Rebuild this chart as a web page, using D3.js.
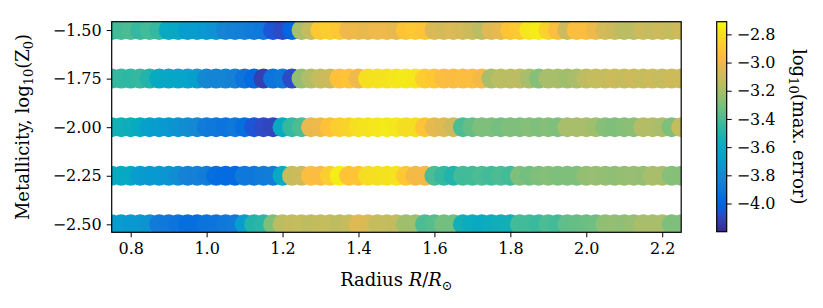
<!DOCTYPE html>
<html>
<head>
<meta charset="utf-8">
<script src="https://cdn.jsdelivr.net/npm/d3@7"></script>
<style>
  html, body { margin: 0; padding: 0; background: #fff; }
  svg { display: block; }
  text { font-family: "DejaVu Serif", serif; fill: #000; }
</style>
</head>
<body>
<svg id="chart" width="823" height="308"></svg>
<script>
// ---------------- data ----------------
const radii = [0.750,0.775,0.800,0.825,0.850,0.875,0.900,0.925,0.950,0.975,
               1.000,1.025,1.050,1.075,1.100,1.125,1.150,1.175,1.200,1.225,
               1.250,1.275,1.300,1.325,1.350,1.375,1.400,1.425,1.450,1.475,
               1.500,1.525,1.550,1.575,1.600,1.625,1.650,1.675,1.700,1.725,
               1.750,1.775,1.800,1.825,1.850,1.875,1.900,1.925,1.950,1.975,
               2.000,2.025,2.050,2.075,2.100,2.125,2.150,2.175,2.200,2.225,2.250];

const metallicities = [-1.50, -1.75, -2.00, -2.25, -2.50];

const errZm150 = [-3.45,-3.42,-3.40,-3.45,-3.42,-3.45,-3.60,-3.62,-3.70,-3.70,
                  -3.72,-3.75,-3.82,-3.85,-3.86,-3.88,-3.90,-4.05,-4.08,-4.00,
                  -3.20,-3.12,-2.90,-2.88,-2.90,-3.00,-3.00,-3.02,-3.00,-3.00,
                  -3.02,-2.92,-2.90,-2.92,-3.06,-3.08,-3.06,-3.08,-3.10,-3.15,
                  -3.05,-3.02,-2.92,-2.90,-2.77,-2.75,-2.85,-2.95,-3.10,-2.95,
                  -2.95,-3.00,-3.08,-3.10,-3.15,-3.15,-3.10,-3.12,-3.10,-3.12,-3.10];

const errZm175 = [-3.45,-3.45,-3.47,-3.45,-3.50,-3.60,-3.62,-3.63,-3.65,-3.68,
                  -3.80,-3.82,-3.83,-3.85,-3.92,-3.98,-4.12,-3.92,-3.90,-4.08,
                  -3.25,-3.18,-3.12,-3.10,-2.93,-2.92,-3.00,-2.80,-2.79,-2.78,
                  -2.77,-2.76,-2.77,-2.88,-2.90,-2.95,-2.96,-2.95,-2.95,-2.98,
                  -3.20,-3.15,-3.15,-3.14,-3.20,-3.28,-3.20,-3.20,-3.22,-3.20,
                  -3.14,-3.12,-3.12,-3.10,-3.12,-3.10,-3.12,-3.10,-3.12,-3.10,-3.10];

const errZm200 = [-3.55,-3.55,-3.57,-3.60,-3.68,-3.70,-3.72,-3.75,-3.78,-3.80,
                  -3.88,-3.90,-3.92,-3.90,-3.95,-4.05,-4.08,-4.10,-3.60,-3.45,
                  -3.40,-3.02,-3.00,-2.93,-2.88,-2.85,-2.80,-2.78,-2.77,-2.76,
                  -2.77,-2.81,-2.81,-2.92,-3.02,-3.05,-3.10,-3.40,-3.35,-3.30,
                  -3.30,-3.32,-3.30,-3.30,-3.28,-3.30,-3.28,-3.30,-3.20,-3.20,
                  -3.20,-3.22,-3.28,-3.30,-3.28,-3.27,-3.17,-3.17,-3.20,-3.30,-3.12];

const errZm225 = [-3.60,-3.60,-3.62,-3.70,-3.72,-3.72,-3.74,-3.78,-3.84,-3.85,
                  -3.87,-3.95,-3.97,-3.98,-3.90,-3.90,-3.88,-3.87,-3.60,-3.12,
                  -3.10,-2.95,-2.96,-2.88,-2.75,-2.92,-2.92,-2.81,-2.80,-2.79,
                  -2.78,-2.90,-2.98,-2.98,-3.40,-3.45,-3.50,-3.42,-3.42,-3.40,
                  -3.42,-3.40,-3.42,-3.30,-3.32,-3.30,-3.28,-3.30,-3.30,-3.30,
                  -3.25,-3.24,-3.25,-3.26,-3.25,-3.24,-3.25,-3.20,-3.20,-3.28,-3.28];

const errZm250 = [-3.70,-3.70,-3.72,-3.72,-3.75,-3.88,-3.90,-3.92,-3.95,-3.95,
                  -3.93,-3.92,-3.90,-3.88,-3.70,-3.50,-3.48,-3.30,-3.15,-3.13,
                  -3.12,-3.14,-3.13,-3.12,-3.14,-3.12,-3.05,-3.06,-3.12,-3.12,
                  -3.13,-3.22,-3.22,-3.40,-3.38,-3.32,-3.32,-3.55,-3.58,-3.60,
                  -3.58,-3.56,-3.55,-3.42,-3.42,-3.44,-3.40,-3.42,-3.36,-3.35,
                  -3.34,-3.33,-3.26,-3.25,-3.26,-3.24,-3.20,-3.20,-3.20,-3.30,-3.30];

const errorRows = [errZm150, errZm175, errZm200, errZm225, errZm250];

const xTicks = [0.8, 1.0, 1.2, 1.4, 1.6, 1.8, 2.0, 2.2];
const yTicks = [-1.50, -1.75, -2.00, -2.25, -2.50];
const cTicks = [-2.8, -3.0, -3.2, -3.4, -3.6, -3.8, -4.0];

// parula colour map (64 entries)
const parula = [
[0.2081,0.1663,0.5292],[0.2116,0.1898,0.5777],[0.2123,0.2138,0.6270],[0.2081,0.2386,0.6771],
[0.1959,0.2645,0.7279],[0.1707,0.2919,0.7792],[0.1253,0.3242,0.8303],[0.0591,0.3598,0.8683],
[0.0117,0.3875,0.8820],[0.0060,0.4086,0.8828],[0.0165,0.4266,0.8786],[0.0329,0.4430,0.8720],
[0.0498,0.4586,0.8641],[0.0629,0.4737,0.8554],[0.0723,0.4887,0.8467],[0.0779,0.5040,0.8384],
[0.0793,0.5200,0.8312],[0.0749,0.5375,0.8263],[0.0641,0.5570,0.8240],[0.0488,0.5772,0.8228],
[0.0343,0.5966,0.8199],[0.0265,0.6137,0.8135],[0.0239,0.6287,0.8038],[0.0231,0.6418,0.7913],
[0.0228,0.6535,0.7768],[0.0267,0.6642,0.7607],[0.0384,0.6743,0.7436],[0.0590,0.6838,0.7254],
[0.0843,0.6928,0.7062],[0.1133,0.7015,0.6859],[0.1453,0.7098,0.6646],[0.1801,0.7177,0.6424],
[0.2178,0.7250,0.6193],[0.2586,0.7317,0.5954],[0.3022,0.7376,0.5712],[0.3482,0.7424,0.5473],
[0.3953,0.7459,0.5244],[0.4420,0.7481,0.5033],[0.4871,0.7491,0.4840],[0.5300,0.7491,0.4661],
[0.5709,0.7485,0.4494],[0.6099,0.7473,0.4337],[0.6473,0.7456,0.4188],[0.6834,0.7435,0.4044],
[0.7184,0.7411,0.3905],[0.7525,0.7384,0.3768],[0.7858,0.7356,0.3633],[0.8185,0.7327,0.3498],
[0.8507,0.7299,0.3360],[0.8824,0.7274,0.3217],[0.9139,0.7258,0.3063],[0.9450,0.7261,0.2886],
[0.9739,0.7314,0.2666],[0.9938,0.7455,0.2403],[0.9990,0.7653,0.2164],[0.9955,0.7861,0.1967],
[0.9880,0.8066,0.1794],[0.9789,0.8271,0.1633],[0.9697,0.8481,0.1475],[0.9626,0.8705,0.1309],
[0.9589,0.8949,0.1132],[0.9598,0.9218,0.0948],[0.9661,0.9514,0.0755],[0.9763,0.9831,0.0538]];
const parulaHex = parula.map(c => d3.rgb(c[0] * 255, c[1] * 255, c[2] * 255).formatHex());

// ---------------- layout ----------------
const svg = d3.select("#chart");
const plot = { left: 111.7, right: 681.2, top: 21.7, bottom: 232.3 };
const cbar = { left: 716.7, right: 726.7, top: 21.7, bottom: 231.7 };
const vmin = -4.20, vmax = -2.71;

const x = d3.scaleLinear().domain([0.75, 2.25]).range([plot.left, plot.right]);
const y = d3.scaleLinear().domain([-2.541, -1.457]).range([plot.bottom, plot.top]);
const cmapInterp = d3.piecewise(d3.interpolateRgb, parulaHex);
const color = d3.scaleSequential(cmapInterp).domain([vmin, vmax]).clamp(true);
const cy = d3.scaleLinear().domain([vmin, vmax]).range([cbar.bottom, cbar.top]);

const minus = s => s.replace("-", "\u2212");

// points
const points = [];
metallicities.forEach((z, r) => {
  radii.forEach((R, i) => points.push({ R, z, e: errorRows[r][i] }));
});

const defs = svg.append("defs");
defs.append("clipPath").attr("id", "clip")
  .append("rect")
  .attr("x", plot.left).attr("y", plot.top)
  .attr("width", plot.right - plot.left).attr("height", plot.bottom - plot.top);

svg.append("g").attr("clip-path", "url(#clip)")
  .selectAll("circle").data(points).enter().append("circle")
  .attr("cx", d => x(d.R))
  .attr("cy", d => y(d.z))
  .attr("r", 10)
  .attr("fill", d => color(d.e));

// axes
const xAxis = d3.axisBottom(x).tickValues(xTicks).tickSizeOuter(0).tickSize(5).tickPadding(5)
  .tickFormat(d => minus(d3.format(".1f")(d)));
const yAxis = d3.axisLeft(y).tickValues(yTicks).tickSizeOuter(0).tickSize(5).tickPadding(5)
  .tickFormat(d => minus(d3.format(".2f")(d)));

const gx = svg.append("g").attr("transform", `translate(0,${plot.bottom})`).call(xAxis);
const gy = svg.append("g").attr("transform", `translate(${plot.left},0)`).call(yAxis);
[gx, gy].forEach(g => {
  g.select(".domain").remove();
  g.selectAll("line").attr("stroke", "#000").attr("stroke-width", 1);
  g.selectAll("text").style("font-family", "DejaVu Serif").style("font-size", "16px").attr("fill", "#000");
});

// frame
svg.append("rect")
  .attr("x", plot.left).attr("y", plot.top)
  .attr("width", plot.right - plot.left).attr("height", plot.bottom - plot.top)
  .attr("fill", "none").attr("stroke", "#000").attr("stroke-width", 1.2);

// axis labels
const xl = svg.append("text")
  .attr("x", (plot.left + plot.right) / 2).attr("y", 286)
  .attr("text-anchor", "middle").style("font-size", "18px");
xl.append("tspan").text("Radius ");
xl.append("tspan").style("font-style", "italic").text("R");
xl.append("tspan").text("/");
xl.append("tspan").style("font-style", "italic").text("R");
xl.append("tspan").attr("dy", 4).style("font-size", "13px").text("\u2299");

const yl = svg.append("text")
  .attr("transform", `translate(29,${(plot.top + plot.bottom) / 2}) rotate(-90)`)
  .attr("text-anchor", "middle").style("font-size", "18px");
yl.append("tspan").text("Metallicity, log");
yl.append("tspan").attr("dy", 4).style("font-size", "13px").text("10");
yl.append("tspan").attr("dy", -4).text("(Z");
yl.append("tspan").attr("dy", 4).style("font-size", "13px").text("0");
yl.append("tspan").attr("dy", -4).text(")");

// colour bar
const grad = defs.append("linearGradient").attr("id", "cbgrad")
  .attr("x1", 0).attr("y1", 1).attr("x2", 0).attr("y2", 0);
parulaHex.forEach((c, i) => {
  grad.append("stop").attr("offset", i / (parulaHex.length - 1)).attr("stop-color", c);
});
svg.append("rect")
  .attr("x", cbar.left).attr("y", cbar.top)
  .attr("width", cbar.right - cbar.left).attr("height", cbar.bottom - cbar.top)
  .attr("fill", "url(#cbgrad)").attr("stroke", "#000").attr("stroke-width", 1.2);

const cAxis = d3.axisRight(cy).tickValues(cTicks).tickSizeOuter(0).tickSize(5).tickPadding(5)
  .tickFormat(d => minus(d3.format(".1f")(d)));
const gc = svg.append("g").attr("transform", `translate(${cbar.right},0)`).call(cAxis);
gc.select(".domain").remove();
gc.selectAll("line").attr("stroke", "#000").attr("stroke-width", 1);
gc.selectAll("text").style("font-family", "DejaVu Serif").style("font-size", "16px").attr("fill", "#000");

const cl = svg.append("text")
  .attr("transform", `translate(793,${(cbar.top + cbar.bottom) / 2}) rotate(90)`)
  .attr("text-anchor", "middle").style("font-size", "18px");
cl.append("tspan").text("log");
cl.append("tspan").attr("dy", 4).style("font-size", "13px").text("10");
cl.append("tspan").attr("dy", -4).text("(max. error)");
</script>
</body>
</html>
